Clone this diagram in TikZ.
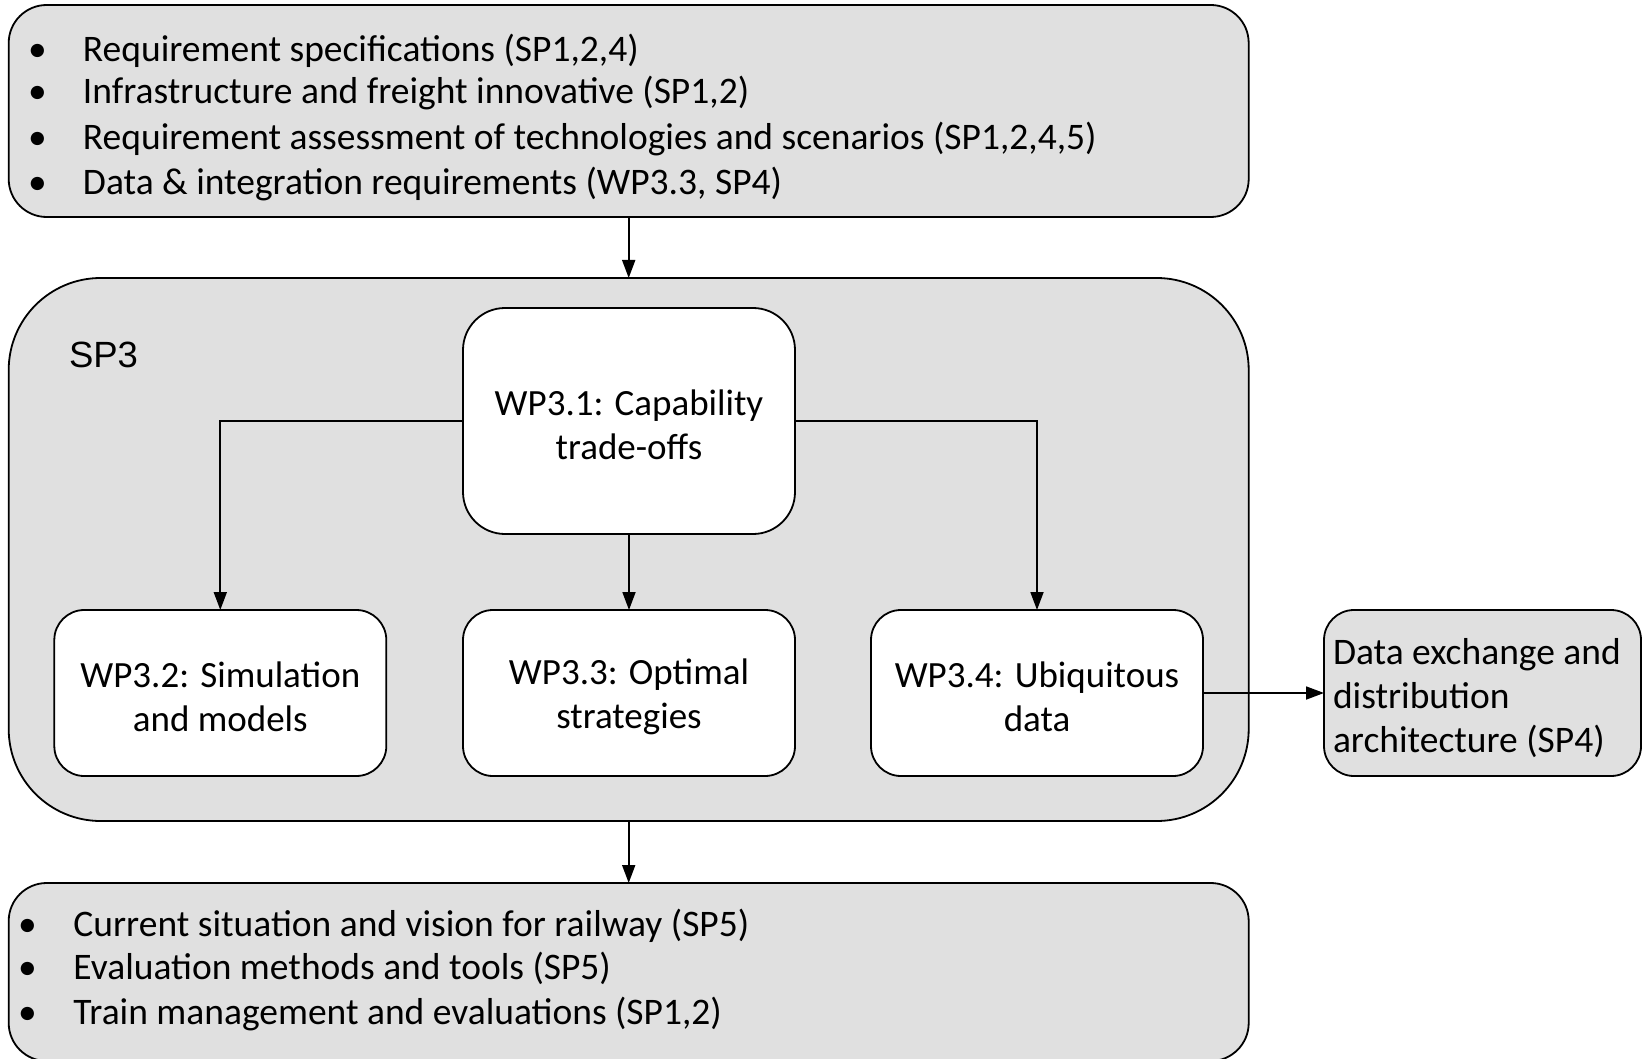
\documentclass[tikz,border=0pt]{standalone}
\usepackage{fontspec}
\setmainfont{Carlito}
\newfontfamily\arialfont{Liberation Sans}
\usetikzlibrary{arrows.meta}
\definecolor{boxgray}{RGB}{224,224,224}
\begin{document}
\begin{tikzpicture}[x=1pt,y=-1pt,
  every node/.style={inner sep=0pt,outer sep=0pt},
  bigbox/.style={draw=black,line width=1.8pt,fill=boxgray,rectangle,minimum width=1240pt},
  wpbox/.style={draw=black,line width=1.8pt,fill=white,rectangle,rounded corners=30pt,minimum width=332pt,minimum height=166pt},
  wptext/.style={align=center,font=\fontsize{37}{43.5}\selectfont},
  txtline/.style={anchor=mid west,font=\fontsize{37.5}{44}\selectfont},
  arr/.style={line width=1.8pt,-{Triangle[length=18pt,width=13pt]}}]
\useasboundingbox (0,0) rectangle (1646,1059);
% outer boxes
\node[bigbox,rounded corners=38pt,minimum height=212pt] (top) at (628.7,111) {};
\node[bigbox,rounded corners=92pt,minimum height=543pt] (sp3) at (628.7,549.5) {};
\node[bigbox,rounded corners=38pt,minimum height=178pt] (bot) at (628.7,972) {};
% top bullets
\node[txtline] (t1) at (28,59.5) {\makebox[55pt][l]{•}Requirement specifications (SP1,2,4)};
\node[txtline] (t2) at (28,101.5) {\makebox[55pt][l]{•}Infrastructure and freight innovative (SP1,2)};
\node[txtline] (t3) at (28,147.5) {\makebox[55pt][l]{•}Requirement assessment of technologies and scenarios (SP1,2,4,5)};
\node[txtline] (t4) at (28,192.5) {\makebox[55pt][l]{•}Data \& integration requirements (WP3.3, SP4)};
% SP3 label
\node[anchor=west,font=\arialfont\fontsize{36.5}{42}\selectfont] (sp3lab) at (69,355) {SP3};
% WP boxes
\node[wpbox,rounded corners=42pt,minimum height=226pt] (wp1) at (629,421) {};
\node[wptext] (wp1t) at (629,425) {WP3.1: Capability\\trade-offs};
\node[wpbox] (wp2) at (220.3,693) {};
\node[wptext] (wp2t) at (220.3,697) {WP3.2: Simulation\\and models};
\node[wpbox] (wp3) at (629,693) {};
\node[wptext] (wp3t) at (629,697) {WP3.3: Optimal\\strategies};
\node[wpbox] (wp4) at (1037,693) {};
\node[wptext] (wp4t) at (1037,697) {WP3.4: Ubiquitous\\data};
\node[wpbox,fill=boxgray,minimum width=317pt] (data) at (1482.5,693) {};
\node[anchor=west,align=left,font=\fontsize{37.5}{44}\selectfont] (datatxt) at (1333,698) {Data exchange and\\distribution\\architecture (SP4)};
% bottom bullets
\node[txtline] (b1) at (18,934.5) {\makebox[55.5pt][l]{•}Current situation and vision for railway (SP5)};
\node[txtline] (b2) at (18,977.5) {\makebox[55.5pt][l]{•}Evaluation methods and tools (SP5)};
\node[txtline] (b3) at (18,1022) {\makebox[55.5pt][l]{•}Train management and evaluations (SP1,2)};
% connectors
\draw[arr] (top.south) -- (sp3.north);
\draw[arr] (wp1.west) -| (wp2.north);
\draw[arr] (wp1.east) -| (wp4.north);
\draw[arr] (wp1.south) -- (wp3.north);
\draw[arr] (wp4.east) -- (data.west);
\draw[arr] (sp3.south) -- (bot.north);
\end{tikzpicture}
\end{document}
